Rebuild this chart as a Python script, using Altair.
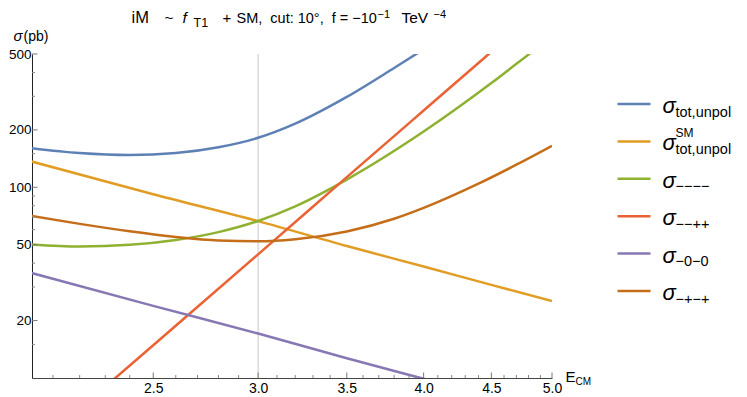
import altair as alt
import pandas as pd

# ---------------- data ----------------
series_names = ["tot", "sm", "mmmm", "mmpp", "m0m0", "mpmp"]
series_colors = ["#5E81B5", "#E19C24", "#8FB131", "#EB6235", "#8778B3", "#C56E1A"]

e_tot = [2.0, 2.2, 2.4, 2.6, 2.8, 3.0, 3.2, 3.5, 3.8, 4.0]
s_tot = [162, 151.2, 147.6, 151.2, 162.2, 181.8, 215.7, 297.8, 422.4, 529]

e_sm = [2.0, 2.5, 3.0, 3.5, 4.0, 4.5, 5.0]
s_sm = [139.5, 92.0, 66.5, 49.2, 38.4, 30.8, 25.3]

e_mmmm = [2.0, 2.2, 2.4, 2.6, 2.8, 3.0, 3.2, 3.5, 4.0, 4.5, 4.8, 4.9]
s_mmmm = [50.4, 48.9, 49.9, 52.9, 58.2, 66.6, 79.5, 109.8, 196, 352, 497, 555]

e_mmpp = [2.3, 2.5, 3.0, 3.5, 4.0, 4.5]
s_mmpp = [9.0, 14.86, 44.5, 113.0, 252.8, 514]

e_m0m0 = [2.0, 2.5, 3.0, 3.5, 4.0, 4.2]
s_m0m0 = [36.3, 23.9, 17.1, 12.7, 9.9, 9.04]

e_mpmp = [2.0, 2.2, 2.4, 2.6, 2.8, 3.0, 3.2, 3.5, 3.8, 4.0, 4.4, 4.7, 5.0]
s_mpmp = [71.7, 64.3, 58.8, 54.9, 52.6, 52.1, 53.4, 58.7, 68.4, 78.0, 104.5, 131.4, 165.1]

x_major = [2.5, 3.0, 3.5, 4.0, 4.5, 5.0]
x_minor = [2.1, 2.2, 2.3, 2.4, 2.6, 2.7, 2.8, 2.9, 3.1, 3.2, 3.3, 3.4, 3.6, 3.7,
           3.8, 3.9, 4.1, 4.2, 4.3, 4.4, 4.6, 4.7, 4.8, 4.9]
y_major = [20, 50, 100, 200, 500]
y_minor = [15, 30, 40, 60, 70, 80, 90, 150, 300, 400]
x_marker = [3.0]

legend_sub = ["tot,unpol", "tot,unpol", "\u2212\u2212\u2212\u2212", "\u2212\u2212++",
              "\u22120\u22120", "\u2212+\u2212+"]
legend_sup = ["", "SM", "", "", "", ""]

# ---------------- build tables ----------------
rows = []
for name, es, ss in zip(series_names,
                        [e_tot, e_sm, e_mmmm, e_mmpp, e_m0m0, e_mpmp],
                        [s_tot, s_sm, s_mmmm, s_mmpp, s_m0m0, s_mpmp]):
    for e, s in zip(es, ss):
        rows.append({"series": name, "E": e, "sigma": s})
df = pd.DataFrame(rows)

leg_df = pd.DataFrame({"idx": list(range(6)), "series": series_names,
                       "sub": legend_sub, "sup": legend_sup})

# layout (plot area origin on the page is about (OX, OY))
OX, OY = 31.5, 53
W, H = 520, 324
FONT = "Liberation Sans"
xs = alt.Scale(type="log", domain=[2.025, 5.0], nice=False)
ys = alt.Scale(type="log", domain=[10, 500], nice=False)
cs = alt.Scale(domain=series_names, range=series_colors)

x_axis = alt.Axis(values=x_major, format=".1f", ticks=False, grid=False, title=None,
                  domainColor="#444", labelFontSize=14, labelFont=FONT, labelColor="black",
                  labelPadding=3, labelFlush=False, labelOverlap=False)
y_axis = alt.Axis(values=y_major, format="d", ticks=False, grid=False, title=None,
                  domainColor="#222", labelFontSize=13.5, labelFont=FONT, labelColor="black",
                  labelPadding=1, labelFlush=False, labelOverlap=False)

one = pd.DataFrame({"a": [0]})


def txt(t, px, py, size, style="normal", color="black"):
    """text placed at page position (px, py) of the baseline start"""
    return alt.Chart(one).mark_text(
        align="left", baseline="alphabetic", fontSize=size, fontStyle=style,
        font=FONT, color=color
    ).encode(x=alt.value(px - OX), y=alt.value(py - OY), text=alt.value(t))


lines = alt.Chart(df).mark_line(clip=True, strokeWidth=2.5, interpolate="monotone").encode(
    x=alt.X("E:Q", scale=xs, axis=x_axis),
    y=alt.Y("sigma:Q", scale=ys, axis=y_axis),
    color=alt.Color("series:N", scale=cs, legend=None),
    detail="series:N",
)

vline = alt.Chart(pd.DataFrame({"E": x_marker})).mark_rule(
    color="#c8c8c8", strokeWidth=1
).encode(x=alt.X("E:Q", scale=xs, axis=x_axis))

xt_major = alt.Chart(pd.DataFrame({"E": x_major})).mark_rule(color="#777").encode(
    x=alt.X("E:Q", scale=xs, axis=x_axis), y=alt.value(H), y2=alt.value(H - 5.5))
xt_minor = alt.Chart(pd.DataFrame({"E": x_minor})).mark_rule(color="#888").encode(
    x=alt.X("E:Q", scale=xs, axis=x_axis), y=alt.value(H), y2=alt.value(H - 3))
yt_major = alt.Chart(pd.DataFrame({"sigma": y_major})).mark_rule(color="#777").encode(
    y=alt.Y("sigma:Q", scale=ys, axis=y_axis), x=alt.value(0), x2=alt.value(5.5))
yt_minor = alt.Chart(pd.DataFrame({"sigma": y_minor})).mark_rule(color="#888").encode(
    y=alt.Y("sigma:Q", scale=ys, axis=y_axis), x=alt.value(0), x2=alt.value(3))

NB = "\u00a0"
texts = [
    txt("iM", 131, 21.5, 16.5),
    txt("~", 164, 21.5, 15.5),
    txt("f", 182, 21.5, 15.5, "italic"),
    txt("T1", 193, 26, 12.5),
    txt("+", 222, 21.5, 15),
    txt("SM," + NB + " cut: 10\u00b0," + NB + " f = \u221210", 236, 21.5, 14.5),
    txt("\u22121", 377, 16.5, 11),
    txt("TeV", 401, 21.5, 15.5),
    txt("\u22124", 433, 16.5, 11),
    txt("\u03c3", 13, 40, 15, "italic"),
    txt("(pb)", 23, 40, 14),
    txt("E", 565, 381, 15),
    txt("CM", 575, 384, 10),
]

main = alt.layer(vline, lines, xt_major, xt_minor, yt_major, yt_minor, *texts)

ly = alt.Y("idx:O", axis=None,
           scale=alt.Scale(type="point", range=[103 - OY, 290 - OY], padding=0))
leg_base = alt.Chart(leg_df)
leg_lines = leg_base.mark_rule(strokeWidth=2.5).encode(
    x=alt.value(617 - OX), x2=alt.value(650 - OX), y=ly,
    color=alt.Color("series:N", scale=cs, legend=None))
leg_sigma = leg_base.mark_text(
    align="left", baseline="alphabetic", fontSize=22, fontStyle="italic",
    font=FONT, color="black", dy=9
).encode(x=alt.value(662 - OX), y=ly, text=alt.value("\u03c3"))
leg_sub = leg_base.mark_text(
    align="left", baseline="alphabetic", fontSize=14.5, font=FONT, color="black", dy=12.5
).encode(x=alt.value(675 - OX), y=ly, text="sub:N")
leg_sup = leg_base.mark_text(
    align="left", baseline="alphabetic", fontSize=12, font=FONT, color="black", dy=-4
).encode(x=alt.value(675 - OX), y=ly, text="sup:N")

legend = alt.layer(leg_lines, leg_sigma, leg_sub, leg_sup)

chart = alt.layer(main, legend).resolve_scale(y="independent").properties(
    width=W, height=H, padding=0, background="white"
).configure_view(stroke=None)

chart.save("out.html", embed_options={"renderer": "svg", "actions": False})
